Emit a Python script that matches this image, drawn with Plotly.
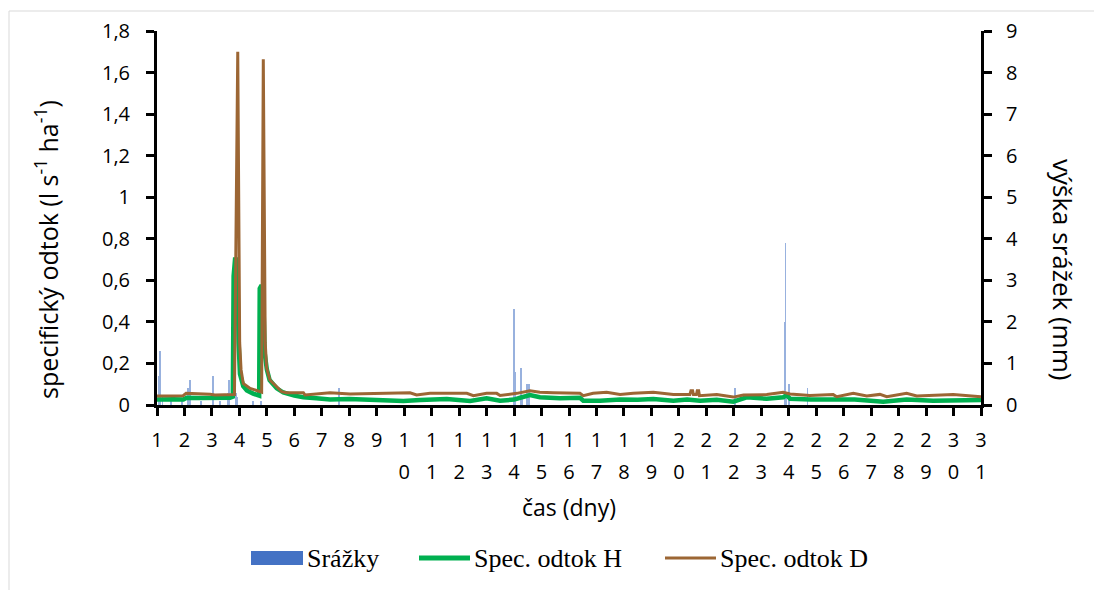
import plotly.graph_objects as go

# ---------------- data ----------------
days = list(range(1, 32))
tick_row1 = [str(d)[0] for d in days]
days2 = list(range(10, 32))
tick_row2 = [str(d)[1] for d in days2]

left_tickvals = [0, 0.2, 0.4, 0.6, 0.8, 1.0, 1.2, 1.4, 1.6, 1.8]
left_ticktext = ["0", "0,2", "0,4", "0,6", "0,8", "1", "1,2", "1,4", "1,6", "1,8"]
right_tickvals = [0, 1, 2, 3, 4, 5, 6, 7, 8, 9]
right_ticktext = ["0", "1", "2", "3", "4", "5", "6", "7", "8", "9"]

# Srážky (mm)
rain_day = [1.08, 1.11, 1.20, 1.50, 1.90, 2.14, 2.20, 2.60, 3.03, 3.30, 3.58, 3.63, 3.88,
            3.92, 4.50, 4.80, 7.64, 14.01, 14.04, 14.25, 14.30, 14.48, 14.55, 22.04,
            23.86, 23.88, 23.92, 24.02, 24.68]
rain_mm = [0.7, 1.3, 0.2, 0.1, 0.15, 0.4, 0.6, 0.1, 0.7, 0.1, 0.3, 0.6, 0.3,
           0.2, 0.1, 0.1, 0.4, 2.3, 0.8, 0.9, 0.2, 0.5, 0.5, 0.4,
           2.0, 3.9, 0.2, 0.5, 0.4]

# Spec. odtok H (l s-1 ha-1)
h_day = [1.00, 1.30, 1.60, 1.96, 2.08, 2.50, 3.00, 3.40, 3.66, 3.76, 3.79, 3.84, 3.92,
         3.97, 4.02, 4.14, 4.27, 4.50, 4.72, 4.74, 4.78, 4.86, 4.92, 5.00, 5.10, 5.36,
         5.60, 6.00, 6.33, 6.80, 7.30, 8.00, 8.60, 9.24, 9.97, 10.58, 10.94, 11.55,
         12.40, 13.00, 13.49, 14.00, 14.22, 14.58, 14.94, 15.67, 16.40, 16.52, 17.13,
         17.86, 18.50, 19.07, 19.80, 20.30, 20.77, 21.38, 21.98, 22.47, 23.20, 23.80,
         23.92, 24.05, 24.80, 25.62, 26.40, 27.44, 28.29, 29.26, 30.20, 31.00]
h_val = [0.027, 0.025, 0.028, 0.027, 0.035, 0.034, 0.036, 0.033, 0.035, 0.040, 0.62,
         0.70, 0.70, 0.30, 0.15, 0.09, 0.07, 0.055, 0.045, 0.56, 0.57, 0.57, 0.25,
         0.17, 0.12, 0.08, 0.06, 0.045, 0.037, 0.032, 0.027, 0.029, 0.026, 0.024,
         0.019, 0.024, 0.027, 0.029, 0.019, 0.032, 0.021, 0.026, 0.035, 0.048, 0.037,
         0.032, 0.035, 0.021, 0.021, 0.027, 0.025, 0.029, 0.021, 0.026, 0.021, 0.025,
         0.016, 0.037, 0.030, 0.037, 0.048, 0.030, 0.026, 0.024, 0.027, 0.016, 0.027,
         0.021, 0.025, 0.024]

# Spec. odtok D (l s-1 ha-1)
d_day = [1.00, 1.47, 1.95, 2.06, 2.57, 2.93, 3.11, 3.66, 3.82, 3.94, 4.01, 4.06, 4.14,
         4.39, 4.75, 4.81, 4.87, 4.94, 4.99, 5.11, 5.36, 5.54, 5.72, 6.33, 6.39, 7.30,
         8.03, 8.60, 9.24, 10.21, 10.45, 10.94, 12.28, 12.52, 13.00, 13.37, 13.49,
         14.10, 14.58, 14.94, 15.43, 16.40, 16.52, 16.88, 17.37, 17.86, 18.34, 19.07,
         19.80, 20.40, 20.44, 20.50, 20.53, 20.64, 20.67, 20.72, 20.75, 21.38, 21.98,
         22.35, 23.20, 23.80, 24.05, 24.77, 25.62, 25.75, 26.35, 26.84, 27.32, 27.57,
         28.29, 28.66, 29.99, 30.48, 31.00]
d_val = [0.043, 0.044, 0.045, 0.056, 0.054, 0.052, 0.048, 0.047, 0.050, 1.70, 0.30,
         0.17, 0.104, 0.080, 0.064, 0.062, 1.664, 0.30, 0.18, 0.12, 0.088, 0.064,
         0.059, 0.059, 0.048, 0.059, 0.053, 0.055, 0.056, 0.059, 0.048, 0.056, 0.056,
         0.045, 0.056, 0.056, 0.046, 0.056, 0.069, 0.061, 0.059, 0.056, 0.045, 0.056,
         0.061, 0.051, 0.056, 0.061, 0.050, 0.050, 0.069, 0.069, 0.050, 0.050, 0.069,
         0.069, 0.045, 0.051, 0.038, 0.048, 0.050, 0.061, 0.053, 0.046, 0.050, 0.040,
         0.056, 0.043, 0.051, 0.040, 0.056, 0.043, 0.050, 0.046, 0.040]

# ---------------- style ----------------
BLUE = "#4472C4"
GREEN = "#00B050"
BROWN = "#9C6634"
SANS = "Open Sans"
SERIF = "Liberation Serif"

W, H = 1094, 590
L, R, T, B = 157, 113, 31, 185
PW, PH = W - L - R, H - T - B


def px(x):
    return (x - L) / PW


def py(y):
    return (H - B - y) / PH


fig = go.Figure()
fig.add_trace(go.Bar(x=rain_day, y=rain_mm, width=0.03, marker=dict(color=BLUE, line_width=0),
                     opacity=0.55, name="Srážky", xaxis="x", yaxis="y", showlegend=False))
fig.add_trace(go.Scatter(x=h_day, y=h_val, mode="lines", line=dict(color=GREEN, width=4.5),
                         name="Spec. odtok H", xaxis="x2", yaxis="y2", showlegend=False))
fig.add_trace(go.Scatter(x=d_day, y=d_val, mode="lines", line=dict(color=BROWN, width=3),
                         name="Spec. odtok D", xaxis="x2", yaxis="y2", showlegend=False))

tickfont = dict(family=SANS, size=20, color="black")

fig.update_layout(
    width=W, height=H,
    margin=dict(l=L, r=R, t=T, b=B),
    paper_bgcolor="white", plot_bgcolor="white",
    showlegend=False,
    bargap=0,
    xaxis=dict(range=[1, 31], tickvals=days, ticktext=tick_row1, showgrid=False, zeroline=False,
               showline=True, linecolor="black", linewidth=3, ticks="outside", ticklen=8,
               tickwidth=3, tickcolor="black", tickfont=tickfont, ticklabelstandoff=7,
               anchor="y"),
    xaxis2=dict(range=[1, 31], overlaying="x", anchor="y2", side="bottom", tickvals=days2,
                ticktext=tick_row2, showgrid=False, zeroline=False, showline=False, ticks="",
                tickfont=tickfont, ticklabelstandoff=53),
    yaxis=dict(range=[0, 9], side="right", tickvals=right_tickvals, ticktext=right_ticktext,
               showgrid=False, zeroline=False, showline=True, linecolor="black", linewidth=3,
               ticks="outside", ticklen=8, tickwidth=3, tickcolor="black", tickfont=tickfont,
               ticklabelstandoff=10, anchor="x"),
    yaxis2=dict(range=[0, 1.8], side="left", overlaying="y", anchor="x2",
                tickvals=left_tickvals, ticktext=left_ticktext, showgrid=False, zeroline=False,
                showline=True, linecolor="black", linewidth=3, ticks="outside", ticklen=8,
                tickwidth=3, tickcolor="black", tickfont=tickfont, ticklabelstandoff=12),
)

# chart border
fig.add_shape(type="rect", xref="paper", yref="paper", x0=px(9), x1=px(1100), y0=py(600),
              y1=py(11), line=dict(color="#d9d9d9", width=1), fillcolor="rgba(0,0,0,0)",
              layer="below")

# axis titles
fig.add_annotation(text="specifický odtok (l s<sup>-1</sup> ha<sup>-1</sup>)", xref="paper",
                   yref="paper", x=px(46), y=py(250), textangle=-90, showarrow=False,
                   font=dict(family=SANS, size=25, color="black"), xanchor="center",
                   yanchor="middle")
fig.add_annotation(text="výška srážek (mm)", xref="paper", yref="paper", x=px(1063), y=py(269),
                   textangle=90, showarrow=False, font=dict(family=SANS, size=26, color="black"),
                   xanchor="center", yanchor="middle")
fig.add_annotation(text="čas (dny)", xref="paper", yref="paper", x=px(569), y=py(507),
                   showarrow=False, font=dict(family=SANS, size=23, color="black"),
                   xanchor="center", yanchor="middle")

# manual legend
fig.add_shape(type="rect", xref="paper", yref="paper", x0=px(251), x1=px(303), y0=py(565),
              y1=py(551), fillcolor=BLUE, line_width=0)
fig.add_shape(type="line", xref="paper", yref="paper", x0=px(419), x1=px(470), y0=py(558),
              y1=py(558), line=dict(color=GREEN, width=5))
fig.add_shape(type="line", xref="paper", yref="paper", x0=px(665), x1=px(716), y0=py(558),
              y1=py(558), line=dict(color=BROWN, width=3))
for label, xl in [("Srážky", 305), ("Spec. odtok H", 472), ("Spec. odtok D", 718)]:
    fig.add_annotation(text=label, xref="paper", yref="paper", x=px(xl), y=py(558),
                       showarrow=False, font=dict(family=SERIF, size=26, color="black"),
                       xanchor="left", yanchor="middle")

fig.write_html("out.html")
